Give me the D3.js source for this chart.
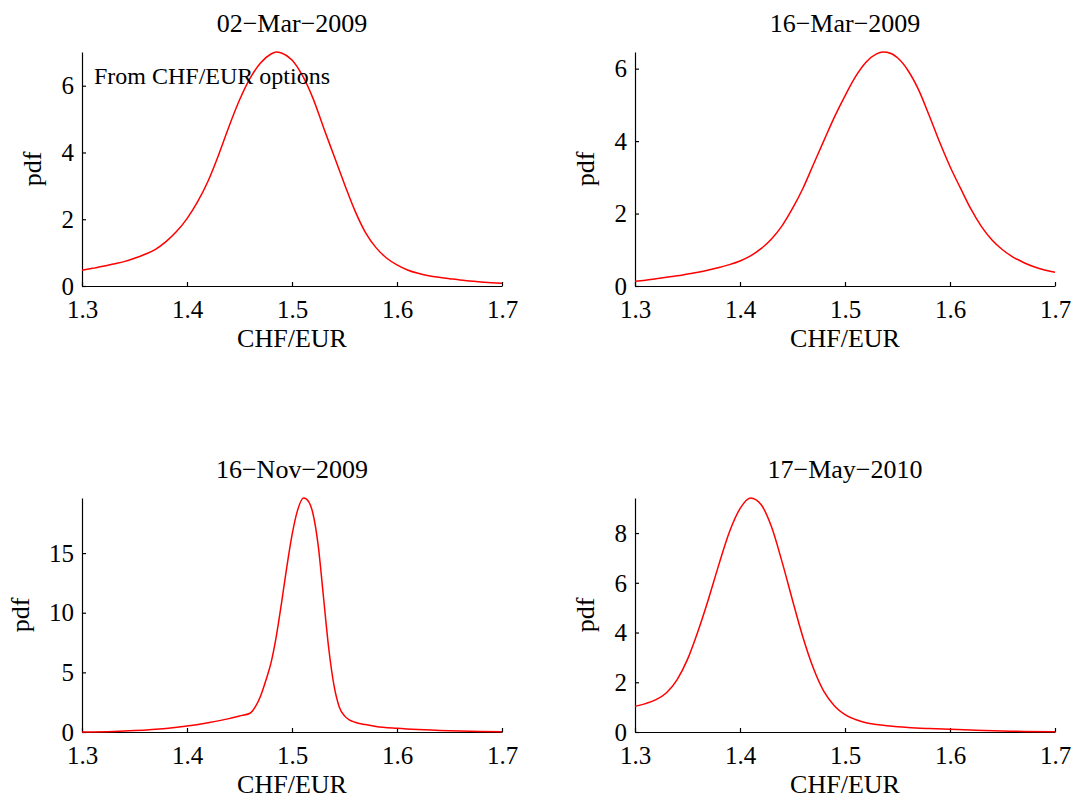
<!DOCTYPE html>
<html>
<head>
<meta charset="utf-8">
<script src="https://cdn.jsdelivr.net/npm/d3@7"></script>
<style>
  body { margin: 0; background: #fff; }
  svg { display: block; }
  text { font-family: "Liberation Serif", "Times New Roman", Times, serif; fill: #000; }
</style>
</head>
<body>
<svg id="fig" width="1077" height="803"></svg>
<script>
// Risk-neutral densities of CHF/EUR implied by option prices, four dates.
const dates = ["02\u2212Mar\u22122009", "16\u2212Mar\u22122009", "16\u2212Nov\u22122009", "17\u2212May\u22122010"];

const rate02Mar2009 = [1.30,1.31,1.32,1.33,1.34,1.35,1.36,1.37,1.38,1.39,1.40,1.41,1.42,1.43,1.44,1.45,1.46,1.47,1.48,1.485,1.49,1.50,1.51,1.52,1.53,1.54,1.55,1.56,1.57,1.58,1.59,1.60,1.61,1.62,1.63,1.64,1.65,1.66,1.67,1.68,1.69,1.70];
const pdf02Mar2009  = [0.47,0.53,0.59,0.66,0.73,0.83,0.95,1.10,1.33,1.63,2.02,2.52,3.14,3.92,4.78,5.57,6.22,6.68,6.95,7.01,6.98,6.77,6.30,5.62,4.75,3.90,3.05,2.25,1.60,1.15,0.84,0.63,0.48,0.38,0.31,0.26,0.22,0.18,0.15,0.12,0.10,0.08];

const rate16Mar2009 = [1.30,1.31,1.32,1.33,1.34,1.35,1.36,1.37,1.38,1.39,1.40,1.41,1.42,1.43,1.44,1.45,1.46,1.47,1.48,1.49,1.50,1.51,1.52,1.53,1.536,1.54,1.55,1.56,1.57,1.58,1.59,1.60,1.61,1.62,1.63,1.64,1.65,1.66,1.67,1.68,1.69,1.70];
const pdf16Mar2009  = [0.13,0.16,0.20,0.24,0.28,0.33,0.38,0.44,0.51,0.59,0.69,0.83,1.03,1.30,1.66,2.14,2.70,3.36,4.02,4.67,5.25,5.78,6.18,6.41,6.46,6.45,6.30,5.95,5.42,4.72,3.98,3.30,2.70,2.12,1.64,1.27,1.00,0.80,0.65,0.53,0.44,0.38];

const rate16Nov2009 = [1.30,1.33,1.35,1.38,1.40,1.42,1.44,1.45,1.46,1.465,1.47,1.475,1.48,1.485,1.49,1.495,1.50,1.505,1.511,1.516,1.520,1.525,1.530,1.535,1.540,1.545,1.550,1.555,1.560,1.570,1.580,1.600,1.620,1.650,1.680,1.700];
const pdf16Nov2009  = [0.01,0.05,0.12,0.30,0.50,0.78,1.12,1.34,1.57,2.10,3.00,4.30,5.80,8.00,10.8,13.8,16.5,18.5,19.62,19.3,18.3,15.6,11.3,7.0,3.9,2.1,1.35,1.00,0.82,0.62,0.47,0.31,0.20,0.10,0.04,0.02];

const rate17May2010 = [1.30,1.31,1.32,1.33,1.34,1.35,1.36,1.37,1.38,1.39,1.40,1.41,1.42,1.43,1.44,1.45,1.46,1.47,1.48,1.49,1.50,1.51,1.52,1.53,1.54,1.55,1.56,1.58,1.60,1.62,1.65,1.70];
const pdf17May2010  = [1.03,1.14,1.30,1.58,2.10,2.92,4.05,5.35,6.75,8.05,8.98,9.41,9.15,8.25,6.85,5.30,3.80,2.55,1.62,1.05,0.70,0.50,0.37,0.30,0.25,0.21,0.18,0.14,0.11,0.08,0.04,0.01];

const rateTicks = [1.3, 1.4, 1.5, 1.6, 1.7];
const pdfTicks02Mar2009 = [0, 2, 4, 6];
const pdfTicks16Mar2009 = [0, 2, 4, 6];
const pdfTicks16Nov2009 = [0, 5, 10, 15];
const pdfTicks17May2010 = [0, 2, 4, 6, 8];

const xLabel = "CHF/EUR";
const yLabel = "pdf";
const note = "From CHF/EUR options";

// Subplot geometry
const W = 420, H = 234;
const cols = [82, 635];
const rows = [52, 498];

const panels = [
  { title: dates[0], x: rate02Mar2009, y: pdf02Mar2009, yTicks: pdfTicks02Mar2009, left: cols[0], top: rows[0], note: true },
  { title: dates[1], x: rate16Mar2009, y: pdf16Mar2009, yTicks: pdfTicks16Mar2009, left: cols[1], top: rows[0] },
  { title: dates[2], x: rate16Nov2009, y: pdf16Nov2009, yTicks: pdfTicks16Nov2009, left: cols[0], top: rows[1] },
  { title: dates[3], x: rate17May2010, y: pdf17May2010, yTicks: pdfTicks17May2010, left: cols[1], top: rows[1] }
];

const svg = d3.select("#fig");

panels.forEach(p => {
  const g = svg.append("g").attr("transform", `translate(${p.left},${p.top})`);
  const xs = d3.scaleLinear().domain([1.3, 1.7]).range([0, W]);
  const ys = d3.scaleLinear().domain([0, d3.max(p.y)]).range([H, 0]);

  // x axis, ticks pointing inward
  const gx = g.append("g").attr("transform", `translate(0,${H})`)
    .call(d3.axisBottom(xs).tickValues(rateTicks).tickFormat(d3.format(".1f"))
      .tickSizeInner(-4).tickSizeOuter(0));
  gx.selectAll("text").attr("y", 32).attr("dy", 0).style("font-size", "25px");

  // y axis, ticks pointing inward
  const gy = g.append("g")
    .call(d3.axisLeft(ys).tickValues(p.yTicks).tickFormat(d3.format("d"))
      .tickSizeInner(-4).tickSizeOuter(0));
  gy.selectAll("text").attr("x", -8).attr("dy", "0.33em").style("font-size", "25px");

  [gx, gy].forEach(a => {
    a.select(".domain").attr("stroke", "#000").attr("stroke-width", 1.2);
    a.selectAll(".tick line").attr("stroke", "#000").attr("stroke-width", 1.2);
    a.attr("font-family", null).attr("font-size", null);
  });

  // density curve
  const line = d3.line()
    .x((d, i) => xs(p.x[i]))
    .y(d => ys(d))
    .curve(d3.curveMonotoneX);
  g.append("path").datum(p.y)
    .attr("fill", "none")
    .attr("stroke", "#ff0000")
    .attr("stroke-width", 1.5)
    .attr("stroke-linejoin", "round")
    .attr("d", line);

  // title
  g.append("text").attr("x", W / 2).attr("y", -20)
    .attr("text-anchor", "middle").style("font-size", "26px").text(p.title);

  // x label
  g.append("text").attr("x", W / 2).attr("y", H + 61)
    .attr("text-anchor", "middle").style("font-size", "26px").text(xLabel);

  // y label, placed left of the widest tick label
  let maxW = 0;
  gy.selectAll("text").each(function () { maxW = Math.max(maxW, this.getBBox().width); });
  const lx = -(8 + maxW + 20);
  g.append("text")
    .attr("transform", `translate(${lx},${H / 2}) rotate(-90)`)
    .attr("text-anchor", "middle").style("font-size", "26px").text(yLabel);

  if (p.note) {
    g.append("text").attr("x", 12).attr("y", 32)
      .style("font-size", "24px").text(note);
  }
});
</script>
</body>
</html>
